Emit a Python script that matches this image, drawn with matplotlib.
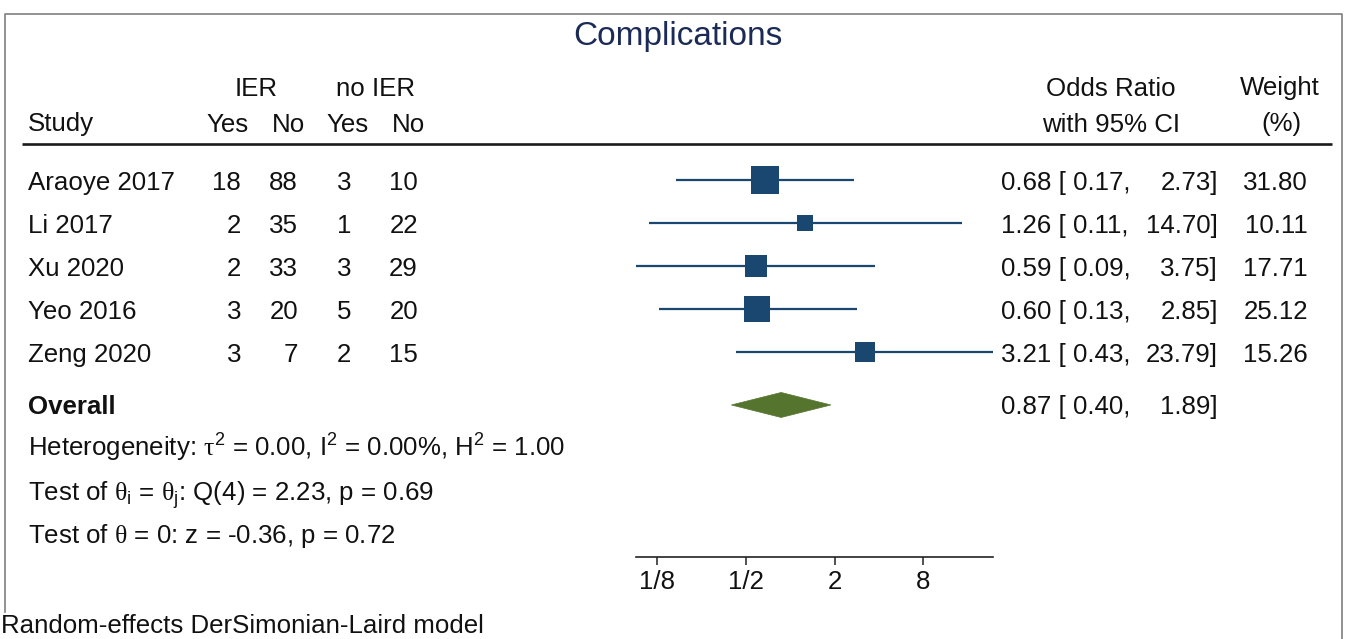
import matplotlib
matplotlib.use("Agg")
import matplotlib.pyplot as plt
from matplotlib.patches import Polygon
from matplotlib.transforms import blended_transform_factory
import numpy as np

# ---------------- data ----------------
title = "Complications"
studies = ["Araoye 2017", "Li 2017", "Xu 2020", "Yeo 2016", "Zeng 2020"]
ier_yes = [18, 2, 2, 3, 3]
ier_no = [88, 35, 33, 20, 7]
noier_yes = [3, 1, 3, 5, 2]
noier_no = [10, 22, 29, 20, 15]
odds_ratio = [0.68, 1.26, 0.59, 0.60, 3.21]
ci_low = [0.17, 0.11, 0.09, 0.13, 0.43]
ci_high = [2.73, 14.70, 3.75, 2.85, 23.79]
weights = [31.80, 10.11, 17.71, 25.12, 15.26]
overall_or = 0.87
overall_low = 0.40
overall_high = 1.89
tick_values = [0.125, 0.5, 2, 8]
tick_labels = ["1/8", "1/2", "2", "8"]
het_line = r"Heterogeneity: $\mathrm{\tau}^{\mathsf{2}}$ = 0.00, I$^{\mathsf{2}}$ = 0.00%, H$^{\mathsf{2}}$ = 1.00"
test_line1 = r"Test of $\mathrm{\theta}_{\mathsf{i}}$ = $\mathrm{\theta}_{\mathsf{j}}$: Q(4) = 2.23, p = 0.69"
test_line2 = r"Test of $\mathrm{\theta}$ = 0: z = -0.36, p = 0.72"
note = "Random-effects DerSimonian-Laird model"

# ---------------- style ----------------
plt.rcParams["font.family"] = ["Liberation Sans", "DejaVu Sans"]
plt.rcParams["mathtext.fontset"] = "custom"
plt.rcParams["mathtext.rm"] = "Liberation Serif"
plt.rcParams["mathtext.sf"] = "Liberation Sans"
plt.rcParams["mathtext.it"] = "Liberation Sans:italic"
plt.rcParams["mathtext.bf"] = "Liberation Sans:bold"

NAVY = "#1a476f"
GREEN = "#55752f"
TITLE_C = "#1c2a58"
TXT = "#111111"
FS = 18.6

W, H = 1346, 639
fig = plt.figure(figsize=(W / 100, H / 100), dpi=100)
fig.patch.set_facecolor("white")

# background axes in pixel coordinates
bg = fig.add_axes([0, 0, 1, 1])
bg.set_xlim(0, W)
bg.set_ylim(H, 0)
bg.axis("off")

# forest-plot axes
ROW0, ROWH = 180.3, 43.0
ytop, ybot = -0.5, 8.75
ax_l, ax_r = 635.7, 993.3
px_top = ROW0 + ROWH * ytop
px_bot = ROW0 + ROWH * ybot
ax = fig.add_axes([ax_l / W, (H - px_bot) / H, (ax_r - ax_l) / W, (px_bot - px_top) / H])
ax.set_facecolor("none")
ax.set_xscale("log", base=2)
ax.set_xlim(min(ci_low), max(ci_high))
ax.set_ylim(ybot, ytop)
for s in ["top", "left", "right"]:
    ax.spines[s].set_visible(False)
ax.spines["bottom"].set_linewidth(1.2)
ax.spines["bottom"].set_color("#222222")
ax.set_yticks([])
ax.set_xticks(tick_values)
ax.set_xticklabels(tick_labels)
ax.minorticks_off()
ax.tick_params(axis="x", direction="out", length=6, width=1.1, color="#222222",
               labelsize=FS, labelcolor=TXT, pad=3.5)

rows = np.arange(len(studies))
ax.hlines(rows, ci_low, ci_high, color=NAVY, lw=1.6, zorder=2)
for r, o, w in zip(rows, odds_ratio, weights):
    side_px = 5.0 * np.sqrt(w)
    ax.plot([o], [r], marker="s", markersize=side_px * 0.72, color=NAVY,
            markeredgewidth=0, zorder=3)

ov_row = len(studies) + 0.225
half_h = 12.5 / ROWH
diamond = Polygon([[overall_low, ov_row], [overall_or, ov_row - half_h],
                   [overall_high, ov_row], [overall_or, ov_row + half_h]],
                  closed=True, facecolor=GREEN, edgecolor=GREEN, lw=0.5, zorder=3)
ax.add_patch(diamond)

# text in pixel x / row y
tr = blended_transform_factory(bg.transData, ax.transData)
BASE = 9.5 / ROWH  # baseline offset from row centre (rows)

def row_text(x, r, s, ha="left", **kw):
    bg.text(x, r + BASE, s, transform=tr, ha=ha, va="baseline", fontsize=FS,
            color=TXT, **kw)

# border (left, top, right)
bg.plot([5, 5, 1342, 1342], [612, 14, 14, 639], color="#7f7f7f", lw=1.2)

# title
bg.text(678, 37, title, ha="center", va="center", fontsize=24, color=TITLE_C)

# headers
def hdr(x, y, s, ha="center"):
    bg.text(x, y + 9.5, s, ha=ha, va="baseline", fontsize=FS, color=TXT)

hdr(256, 86, "IER")
hdr(375, 86, "no IER")
hdr(28, 122, "Study", ha="left")
hdr(228, 122, "Yes")
hdr(288, 122, "No")
hdr(348, 122, "Yes")
hdr(408, 122, "No")
hdr(1111, 86, "Odds Ratio")
hdr(1111, 122, "with 95% CI")
hdr(1280, 86, "Weight")
hdr(1281, 122, "(%)")
bg.plot([22, 1332], [144, 144], color="#1a1a1a", lw=1.9, solid_capstyle="butt")

# study rows
for r in rows:
    row_text(28, r, studies[r])
    row_text(241, r, str(ier_yes[r]), ha="right")
    row_text(298, r, str(ier_no[r]), ha="right")
    row_text(351, r, str(noier_yes[r]), ha="right")
    row_text(418, r, str(noier_no[r]), ha="right")
    row_text(1001, r, f"{odds_ratio[r]:.2f} [ {ci_low[r]:.2f},")
    row_text(1218, r, f"{ci_high[r]:.2f}]", ha="right")
    row_text(1308, r, f"{weights[r]:.2f}", ha="right")

# overall
row_text(28, ov_row, "Overall", fontweight="bold")
row_text(1001, ov_row, f"{overall_or:.2f} [ {overall_low:.2f},")
row_text(1218, ov_row, f"{overall_high:.2f}]", ha="right")

# statistics lines
bg.text(28, 447 + 9.5, het_line, ha="left", va="baseline", fontsize=FS, color=TXT)
bg.text(28, 491 + 9.5, test_line1, ha="left", va="baseline", fontsize=FS, color=TXT)
bg.text(28, 534 + 9.5, test_line2, ha="left", va="baseline", fontsize=FS, color=TXT)
bg.text(1, 633, note, ha="left", va="baseline", fontsize=FS, color=TXT)

fig.savefig("out.png", dpi=100, facecolor="white")
